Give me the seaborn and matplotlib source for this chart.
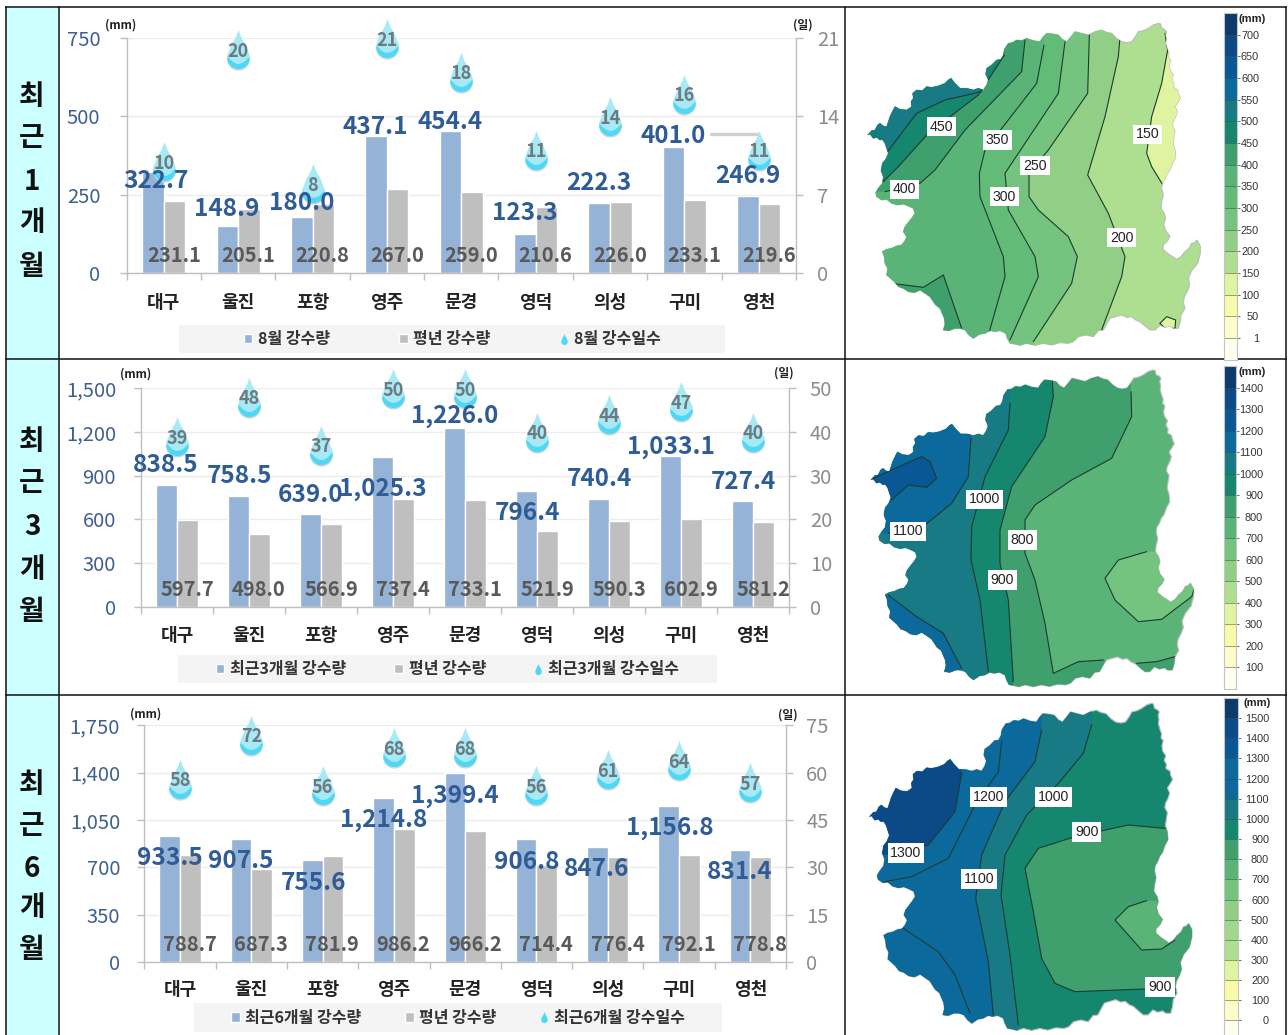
import numpy as np
import pandas as pd
import matplotlib
matplotlib.use("Agg")
import matplotlib.pyplot as plt
import seaborn as sns
from matplotlib.colors import ListedColormap
from matplotlib.lines import Line2D
from matplotlib.patches import Patch, Polygon, Rectangle
from matplotlib.path import Path

W, H = 1288, 1035

# --- chart data ---
stations = ['대구', '울진', '포항', '영주', '문경', '영덕', '의성', '구미', '영천']

rain_1m = [322.7, 148.9, 180.0, 437.1, 454.4, 123.3, 222.3, 401.0, 246.9]
normal_1m = [231.1, 205.1, 220.8, 267.0, 259.0, 210.6, 226.0, 233.1, 219.6]
days_1m = [10, 20, 8, 21, 18, 11, 14, 16, 11]

rain_3m = [838.5, 758.5, 639.0, 1025.3, 1226.0, 796.4, 740.4, 1033.1, 727.4]
normal_3m = [597.7, 498.0, 566.9, 737.4, 733.1, 521.9, 590.3, 602.9, 581.2]
days_3m = [39, 48, 37, 50, 50, 40, 44, 47, 40]

rain_6m = [933.5, 907.5, 755.6, 1214.8, 1399.4, 906.8, 847.6, 1156.8, 831.4]
normal_6m = [788.7, 687.3, 781.9, 986.2, 966.2, 714.4, 776.4, 792.1, 778.8]
days_6m = [58, 72, 56, 68, 68, 56, 61, 64, 57]

left_ticks_1m = [0, 250, 500, 750]
left_ticks_3m = [0, 300, 600, 900, 1200, 1500]
left_ticks_6m = [0, 350, 700, 1050, 1400, 1750]
right_ticks_1m = [0, 7, 14, 21]
right_ticks_3m = [0, 10, 20, 30, 40, 50]
right_ticks_6m = [0, 15, 30, 45, 60, 75]

# pixel offsets of the blue value labels from their bar tops
dx_1m = [-8, -11, -11, -11.5, -11.5, -11, -11, -11, -11]
dy_1m = [-9, 17, 14, 9, 9, 21, 20, 11, 20]
dx_3m = [-11, -10, -10, -10.5, -10, -10, -10, -10, -9.5]
dy_3m = [19.6, 20, 19, -32, 12, -22, 20, 9, 19]
dx_6m = [-10, -10.5, -9.6, -10.3, -10, -10, -10.8, -9.4, -10.6]
dy_6m = [-22, -22, -23, -22.6, -23, -23, -21.5, -22.4, -22]

# --- map colours and colour bar labels ---
ramp = ['#0c3a6b', '#0b4a87', '#0a5795', '#0b6a9b', '#177a84', '#14876e', '#3fa06d', '#5ab478',
        '#62bc78', '#74c47f', '#90cf85', '#aede8f', '#dff3a0', '#f8fca8', '#fdfdc9', '#fffff0']
cbar_labels_1m = ['700', '650', '600', '550', '500', '450', '400', '350', '300', '250', '200', '150', '100', '50', '1']
cbar_labels_3m = ['1400', '1300', '1200', '1100', '1000', '900', '800', '700', '600', '500', '400', '300', '200', '100']
cbar_labels_6m = ['1500', '1400', '1300', '1200', '1100', '1000', '900', '800', '700', '600', '500', '400', '300',
                  '200', '100', '0']
cbar_cols_1m = ramp
cbar_cols_3m = ramp[:8] + ramp[9:]
cbar_cols_6m = ramp[:3] + [ramp[3], ramp[3]] + ramp[4:8] + [ramp[9], ramp[10], '#a0d789'] + ramp[11:]

# --- map shapes, traced in 3x crop coordinates ---
coast = [(940, 70), (947, 72), (950, 85), (958, 88), (965, 95), (961, 105), (964, 118), (962, 130), (968, 150),
         (972, 160), (970, 172), (977, 180), (973, 195), (975, 210), (985, 225), (980, 238), (987, 250), (985, 262),
         (998, 270), (1000, 282), (1006, 295), (998, 308), (990, 320), (997, 335), (992, 350), (984, 365), (982, 378),
         (990, 392), (987, 410), (984, 430), (990, 450), (992, 472), (982, 490), (975, 510), (966, 522), (960, 537),
         (952, 550), (950, 565), (955, 585), (950, 605), (948, 625), (958, 640), (962, 655), (956, 672), (962, 692),
         (975, 708), (968, 722), (955, 735), (954, 748), (968, 760), (980, 768), (995, 778), (1008, 770), (1020, 755),
         (1032, 745), (1040, 730), (1048, 728), (1056, 720), (1066, 738), (1066, 760), (1058, 790), (1048, 802),
         (1040, 812), (1030, 835), (1034, 855), (1028, 872), (1018, 890), (1015, 908), (1020, 925), (1008, 945),
         (1006, 965), (1000, 985), (985, 985), (975, 978), (960, 982), (945, 975), (930, 990), (915, 990), (900, 978),
         (885, 965), (872, 960), (860, 950), (845, 952), (830, 945), (812, 950), (795, 955), (785, 972), (775, 990),
         (760, 992), (745, 1010), (722, 1005), (700, 1010), (685, 1025), (670, 1030), (645, 1028), (620, 1035),
         (595, 1030), (570, 1036), (545, 1030), (525, 1036), (508, 1032), (495, 1030), (487, 1015), (482, 1000),
         (465, 992), (450, 995), (435, 992), (420, 1000), (403, 1003), (385, 1015), (372, 1005), (360, 990), (345, 985),
         (330, 985), (312, 992), (295, 990), (300, 972), (298, 955), (285, 925), (272, 915), (255, 890), (240, 880),
         (225, 870), (208, 878), (190, 875), (175, 865), (160, 860), (148, 845), (125, 825), (128, 805), (120, 790),
         (118, 770), (112, 755), (125, 748), (140, 745), (155, 738), (170, 735), (180, 722), (185, 710), (175, 695),
         (180, 680), (192, 665), (200, 655), (210, 640), (205, 625), (190, 618), (175, 612), (158, 615), (140, 610),
         (125, 598), (110, 600), (95, 590), (92, 578), (100, 565), (112, 550), (115, 530), (108, 512), (112, 490),
         (122, 478), (130, 460), (125, 445), (120, 430), (112, 418), (105, 420), (95, 412), (85, 415), (75, 402),
         (68, 405), (80, 392), (90, 390), (98, 375), (105, 370), (115, 378), (125, 380), (130, 365), (135, 350),
         (142, 335), (150, 320), (165, 328), (185, 330), (193, 325), (200, 320), (198, 305), (205, 295), (203, 280),
         (215, 270), (232, 272), (245, 260), (260, 262), (280, 258), (300, 250), (310, 240), (318, 235), (330, 250),
         (345, 265), (365, 265), (385, 270), (400, 265), (415, 270), (425, 255), (430, 240), (422, 222), (425, 205),
         (440, 195), (455, 180), (468, 178), (475, 165), (478, 148), (490, 130), (502, 128), (515, 120), (530, 122),
         (545, 115), (565, 122), (585, 125), (595, 110), (605, 100), (625, 102), (640, 105), (652, 118), (665, 125),
         (678, 110), (690, 95), (710, 100), (730, 105), (750, 95), (770, 90), (785, 97), (800, 100), (815, 115),
         (830, 125), (845, 128), (860, 125), (870, 112), (880, 95), (895, 92), (910, 85), (925, 75)]

l150 = [(960, 100), (968, 150), (950, 250), (920, 350), (905, 460), (920, 500), (955, 557)]
l200 = [(825, 110), (820, 170), (780, 350), (728, 525), (790, 640), (840, 770), (830, 830), (770, 990)]
l250 = [(733, 105), (728, 280), (610, 450), (552, 520), (552, 590), (580, 630), (670, 710), (697, 770), (680, 850),
        (565, 1025)]
l300 = [(660, 125), (640, 280), (480, 520), (490, 630), (570, 770), (580, 830), (495, 1020)]
l350 = [(597, 135), (575, 250), (420, 450), (403, 520), (405, 590), (475, 770), (480, 830), (433, 995)]
l400 = [(540, 120), (530, 215), (360, 390), (270, 510), (225, 550), (120, 575)]
l450 = [(478, 165), (400, 285), (250, 400), (160, 500), (115, 545)]
l500 = [(410, 275), (300, 300), (215, 340), (120, 465)]
patch_1a = [(140, 850), (235, 862), (295, 825), (350, 985), (290, 1000), (290, 930), (240, 885), (190, 875)]
patch_1b = [(945, 970), (965, 950), (992, 960), (990, 985), (960, 985)]

m800 = [(858, 95), (860, 170), (800, 295), (680, 360), (570, 435), (540, 480), (540, 580), (570, 660), (600, 790),
        (625, 940)]
m800b = [(625, 940), (700, 905), (775, 900)]
m800c = [(875, 910), (935, 905), (990, 890)]
m900 = [(622, 65), (625, 110), (600, 230), (500, 380), (465, 510), (465, 610), (490, 720), (505, 965)]
m1000 = [(495, 130), (490, 210), (420, 350), (380, 500), (378, 600), (405, 720), (430, 935)]
m1100 = [(378, 235), (370, 350), (320, 430), (240, 495), (130, 520)]
m1100b = [(130, 705), (215, 770), (295, 820), (350, 925)]
patch_3a = [(905, 575), (820, 600), (780, 655), (810, 720), (880, 785), (950, 778), (1040, 710), (1050, 680),
            (1100, 600), (940, 575)]
patch_3b = [(75, 360), (150, 325), (230, 290), (255, 305), (275, 355), (245, 382), (190, 375), (140, 420), (100, 400)]

n900 = [(960, 400), (850, 390), (690, 425), (580, 460), (540, 520), (565, 650), (590, 790), (630, 865), (690, 890),
        (900, 882), (1010, 882)]
n1000 = [(740, 90), (715, 175), (640, 265), (545, 360), (480, 480), (468, 600), (495, 780), (520, 990)]
n1100 = [(590, 105), (570, 200), (480, 320), (410, 480), (392, 610), (430, 800), (445, 960)]
n1200 = [(470, 140), (460, 230), (390, 330), (310, 490), (200, 545), (120, 560)]
n1200b = [(160, 690), (280, 770), (330, 840), (375, 955)]
n1300 = [(350, 235), (330, 350), (250, 450), (140, 480)]
patch_6 = [(905, 617), (850, 635), (810, 675), (890, 765), (950, 762), (990, 735), (990, 617)]


def west_of(line):
    return line + [(line[-1][0], 1300), (-300, 1300), (-300, -300), (line[0][0], -300)]


def nw_of(line):
    return line + [(-300, line[-1][1]), (-300, -300), (line[0][0], -300)]


def drop_path(shift=0.0, lower=False):
    # teardrop marker, tip up, point of the value in the middle
    if lower:
        # bright crescent along the bottom of the drop
        a = np.radians(np.linspace(0, -180, 30))
        verts = list(zip(0.58 * np.cos(a), -0.42 + 0.58 * np.sin(a)))
        inner = np.linspace(-0.5, 0.5, 12)
        verts += [(v, -0.42 - 0.32 * (1 - (v / 0.5) ** 2)) for v in inner]
    else:
        a = np.radians(np.linspace(25, -205, 40))
        x = 0.58 * np.cos(a)
        y = -0.42 + 0.58 * np.sin(a)
        verts = [(0, 1.0), (0.14, 0.62), (0.33, 0.3)] + list(zip(x, y)) + [(-0.33, 0.3), (-0.14, 0.62)]
    verts = [(vx, vy - shift) for vx, vy in verts]
    verts.append(verts[0])
    codes = [Path.MOVETO] + [Path.LINETO] * (len(verts) - 2) + [Path.CLOSEPOLY]
    return Path(verts, codes)


sns.set_theme(style='white')
plt.rcParams['font.family'] = ['Noto Sans CJK KR', 'DejaVu Sans']

fig = plt.figure(figsize=(W / 100, H / 100), dpi=100)
bg = fig.add_axes([0, 0, 1, 1], zorder=-1)
bg.set_xlim(0, W)
bg.set_ylim(H, 0)
bg.axis('off')


def px_axes(left, top, right, bottom, **kw):
    return fig.add_axes([left / W, 1 - bottom / H, (right - left) / W, (bottom - top) / H], **kw)


def px_text(x, y, s, **kw):
    kw.setdefault('ha', 'center')
    kw.setdefault('va', 'center')
    fig.text(x / W, 1 - y / H, s, **kw)


def draw_chart(box, rain, normal, days, lticks, rticks, rain_name, legend_names, dx, dy, cat_pad, lpad, rpad,
               gray_dx, gray_dy, legend_box, unit_l, unit_r):
    left, top, right, bottom = box
    ax = px_axes(left, top, right, bottom)
    ax.patch.set_visible(False)
    df = pd.DataFrame({'station': stations * 2,
                       'kind': [rain_name] * 9 + ['평년 강수량'] * 9,
                       'mm': list(rain) + list(normal)})
    sns.barplot(data=df, x='station', y='mm', hue='kind', order=stations, hue_order=[rain_name, '평년 강수량'],
                palette=['#95b3d7', '#bfbfbf'], width=0.58, gap=0, saturation=1, legend=False, ax=ax)
    ax.set_xlim(-0.5, 8.5)
    ax.set_ylim(lticks[0], lticks[-1])
    ax.set_yticks(lticks)
    ax.set_yticklabels([f'{t:,}' for t in lticks])
    ax.set_xlabel('')
    ax.set_ylabel('')
    ax.set_axisbelow(True)
    ax.yaxis.grid(True, color='#ececec', lw=1)
    ax.set_xticks(np.arange(-0.5, 9), minor=True)
    ax.tick_params(axis='x', which='major', length=0, pad=cat_pad, labelsize=13)
    for t in ax.get_xticklabels():
        t.set_fontweight('bold')
        t.set_color('#222222')
    ax.tick_params(axis='x', which='minor', length=5, width=1, color='#bfbfbf', bottom=True)
    ax.tick_params(axis='y', length=5, width=1, color='#bfbfbf', left=True, labelsize=14.5, pad=lpad,
                   labelcolor='#3f5f8f')
    for side in ['top']:
        ax.spines[side].set_visible(False)
    for side in ['left', 'right', 'bottom']:
        ax.spines[side].set_color('#bfbfbf')
        ax.spines[side].set_linewidth(1)

    ax2 = ax.twinx()
    ax2.patch.set_visible(False)
    ax2.set_ylim(rticks[0], rticks[-1])
    ax2.set_yticks(rticks)
    ax2.grid(False)
    ax2.tick_params(axis='y', length=5, width=1, color='#bfbfbf', right=True, labelsize=14.5, pad=rpad,
                    labelcolor='#8c8c8c')
    for side in ['top', 'left', 'bottom', 'right']:
        ax2.spines[side].set_visible(False)

    # drops: shadow, body, brighter lower part
    xs = np.arange(len(stations))
    sns.scatterplot(x=xs, y=days, marker=drop_path(shift=0.08), s=790 * 1.08 ** 2, color='#ccd5d8', linewidth=0,
                    clip_on=False, legend=False, ax=ax2, zorder=3)
    sns.scatterplot(x=xs, y=days, marker=drop_path(), s=790, color='#a8e9f6', linewidth=0,
                    clip_on=False, legend=False, ax=ax2, zorder=4)
    sns.scatterplot(x=xs, y=days, marker=drop_path(lower=True), s=790, color='#4ed8f6', linewidth=0,
                    clip_on=False, legend=False, ax=ax2, zorder=5)
    ax2.set_xlim(-0.5, 8.5)
    ax2.set_ylim(rticks[0], rticks[-1])

    for i, d in enumerate(days):
        ax2.annotate(str(d), xy=(i, d), xytext=(0, -2), textcoords='offset pixels', ha='center', va='center',
                     fontsize=13, fontweight='bold', color='#6d7b80', zorder=6, annotation_clip=False)
    for i, v in enumerate(normal):
        ax2.annotate(f'{v:,.1f}', xy=(i, 0), xycoords=ax.transData, xytext=(gray_dx, gray_dy),
                     textcoords='offset pixels', ha='center', va='center', fontsize=14.5, fontweight='bold',
                     color='#595959', zorder=7, annotation_clip=False)
    for i, v in enumerate(rain):
        ax2.annotate(f'{v:,.1f}', xy=(i, v), xycoords=ax.transData, xytext=(dx[i], dy[i]),
                     textcoords='offset pixels', ha='center', va='center', fontsize=17.5, fontweight='bold',
                     color='#2f5c96', zorder=8, annotation_clip=False)

    px_text(*unit_l, '(mm)', fontsize=8.5, fontweight='bold', color='#222222')
    px_text(*unit_r, '(일)', fontsize=8.5, fontweight='bold', color='#222222')

    # legend sits on a pale strip
    lx0, ly0, lx1, ly1, col_space = legend_box
    fig.add_artist(Rectangle((lx0 / W, 1 - ly1 / H), (lx1 - lx0) / W, (ly1 - ly0) / H, transform=fig.transFigure,
                             facecolor='#f4f4f4', edgecolor='none', zorder=-2))
    handles = [Patch(facecolor='#95b3d7'), Patch(facecolor='#bfbfbf'),
               Line2D([], [], marker=drop_path(), color='none', markerfacecolor='#4ed8f6', markeredgewidth=0,
                      markersize=8)]
    leg = ax2.legend(handles, legend_names, ncol=3, frameon=False, loc='center',
                     bbox_to_anchor=((lx0 + lx1) / 2 / W, 1 - (ly0 + ly1) / 2 / H), bbox_transform=fig.transFigure,
                     prop={'size': 11.5, 'weight': 'bold'}, handlelength=0.55, handleheight=0.55, handletextpad=0.35,
                     columnspacing=col_space, borderaxespad=0, borderpad=0)
    for t in leg.get_texts():
        t.set_color('#333333')
    return ax


def draw_map(offset_y, sx, ox, sy, oy, base, bands, lines, labels):
    def px(points):
        return [(845 + x / 3, offset_y + y / 3) for x, y in points]

    land_pts = [(sx * x + ox, sy * y + oy) for x, y in coast]
    land = Polygon(px(land_pts), closed=True, facecolor=ramp[base], edgecolor='#bcbcbc', lw=0.8, zorder=2)
    bg.add_patch(land)
    for idx, pts in bands:
        p = Polygon(px(pts), closed=True, facecolor=ramp[idx], edgecolor='none', zorder=3)
        bg.add_patch(p)
        p.set_clip_path(land)
    for pts in lines:
        xy = np.array(px(pts))
        ln, = bg.plot(xy[:, 0], xy[:, 1], color='#1c3b30', lw=0.8, zorder=4)
        ln.set_clip_path(land)
    for text, x, y in labels:
        bg.text(845 + x / 3, offset_y + y / 3, text, ha='center', va='center', fontsize=10.2,
                family='Liberation Sans', color='#222222', zorder=5,
                bbox=dict(facecolor='white', edgecolor='none', pad=2))


def draw_cbar(left, top, right, bottom, cols, labels, label_x, unit_xy):
    cax = px_axes(left, top, right, bottom)
    n = len(cols)
    sns.heatmap(np.arange(n).reshape(-1, 1), cmap=ListedColormap(cols), cbar=False, xticklabels=False,
                yticklabels=False, ax=cax)
    cax.set_ylim(n, 0)
    cax.hlines(np.arange(1, n), 0, 1, color='#3a4a44', lw=0.6, alpha=0.6)
    cax.set_yticks(np.arange(1, len(labels) + 1))
    cax.set_yticklabels(labels, family='Liberation Sans', fontsize=7.8, color='#333333', ha='right')
    cax.tick_params(axis='y', left=False, right=True, labelleft=False, labelright=True, length=2, width=0.6,
                    color='#555555', pad=(label_x - right) * 0.72 - 1.2, rotation=0)
    for s in cax.spines.values():
        s.set_visible(True)
        s.set_color('#c4c4c4')
        s.set_linewidth(0.8)
    px_text(*unit_xy, '(mm)', fontsize=8, fontweight='bold', family='Liberation Sans', color='#222222')


# table frame and left column
bg.add_patch(Rectangle((6, 7), 52, H - 7, facecolor='#ccffff', edgecolor='none', zorder=0))
for x0, y0, x1, y1 in [(6, 7, 1286, 7), (6, 359, 1286, 359), (6, 695, 1286, 695), (6, 7, 6, H), (59, 7, 59, H),
                       (845, 7, 845, H), (1286, 7, 1286, H)]:
    bg.plot([x0, x1], [y0, y1], color='#111111', lw=1.1, zorder=1, solid_capstyle='projecting')

for chars, ys in [('최근1개월', [97, 138, 182, 223, 267]), ('최근3개월', [442, 483, 527, 570, 612]),
                  ('최근6개월', [785, 826, 869, 908, 950])]:
    for c, y in zip(chars, ys):
        px_text(32, y, c, fontsize=20, fontweight='bold', color='#111111')

draw_chart((126.6, 38, 796, 273), rain_1m, normal_1m, days_1m, left_ticks_1m, right_ticks_1m, '8월 강수량',
           ['8월 강수량', '평년 강수량', '8월 강수일수'], dx_1m, dy_1m, 14.5, 14, 10, 10, 18,
           (179, 325, 725, 353, 4.3), (121, 25), (803, 25))
draw_chart((141, 388, 789, 607), rain_3m, normal_3m, days_3m, left_ticks_3m, right_ticks_3m, '최근3개월 강수량',
           ['최근3개월 강수량', '평년 강수량', '최근3개월 강수일수'], dx_3m, dy_3m, 13.5, 13, 10, 10, 17,
           (178, 655, 717, 683, 3.0), (136, 374), (784, 373))
draw_chart((144.4, 725.3, 786, 962), rain_6m, normal_6m, days_6m, left_ticks_6m, right_ticks_6m, '최근6개월 강수량',
           ['최근6개월 강수량', '평년 강수량', '최근6개월 강수일수'], dx_6m, dy_6m, 13, 12.5, 9.5, 9.7, 17.7,
           (194, 1003, 722, 1032, 2.7), (146, 714), (788, 715))
bg.plot([711, 757], [134, 134], color='#d0d0d0', lw=2.4, zorder=2)

draw_map(0, 1, 0, 1, 0, 11,
         [(10, west_of(l200)), (9, west_of(l250)), (8, west_of(l300)), (7, west_of(l350)), (6, nw_of(l400)),
          (5, nw_of(l450)), (4, nw_of(l500)), (6, patch_1a),
          (12, l150 + [(1300, 557), (1300, 100)]), (12, patch_1b)],
         [l150, l200, l250, l300, l350, l400, l450, l500, patch_1a[:4], patch_1b + [patch_1b[0]]],
         [('450', 290, 380), ('350', 458, 420), ('250', 570, 497), ('300', 478, 590), ('400', 178, 568),
          ('150', 907, 403), ('200', 830, 713)])
draw_map(360, 0.97, 12, 0.984, -39, 7,
         [(9, patch_3a), (6, west_of(m800)), (6, m800b + m800c + [(1100, 890), (1100, 1200), (625, 1200)]),
          (5, west_of(m900)), (4, west_of(m1000)), (3, nw_of(m1100)),
          (3, m1100b + [(350, 1300), (-300, 1300), (-300, 705)]), (2, patch_3b)],
         [m800, m800b, m800c, m900, m1000, m1100, m1100b, patch_3a[:8], patch_3b + [patch_3b[0]]],
         [('1000', 418, 418), ('1100', 190, 514), ('800', 532, 540), ('900', 472, 660)])
draw_map(695, 0.97, 7, 1.016, -46, 5,
         [(6, n900 + [(1300, 882), (1300, 400)]), (7, patch_6), (4, west_of(n1000)), (3, west_of(n1100)),
          (1, nw_of(n1300))],
         [n900, n1000, n1100, n1200, n1200b, n1300, patch_6[:6]],
         [('1200', 430, 305), ('1000', 625, 305), ('900', 725, 410), ('1300', 183, 473), ('1100', 403, 552),
          ('900', 945, 875)])

draw_cbar(1224, 13, 1237, 359.6, cbar_cols_1m, cbar_labels_1m, 1258, (1252, 19))
draw_cbar(1224, 366, 1235.7, 689, cbar_cols_3m, cbar_labels_3m, 1262, (1251.7, 372))
draw_cbar(1224, 698, 1238, 1040.6, cbar_cols_6m, cbar_labels_6m, 1268, (1256.7, 702.7))

fig.savefig('out.png', dpi=100)
